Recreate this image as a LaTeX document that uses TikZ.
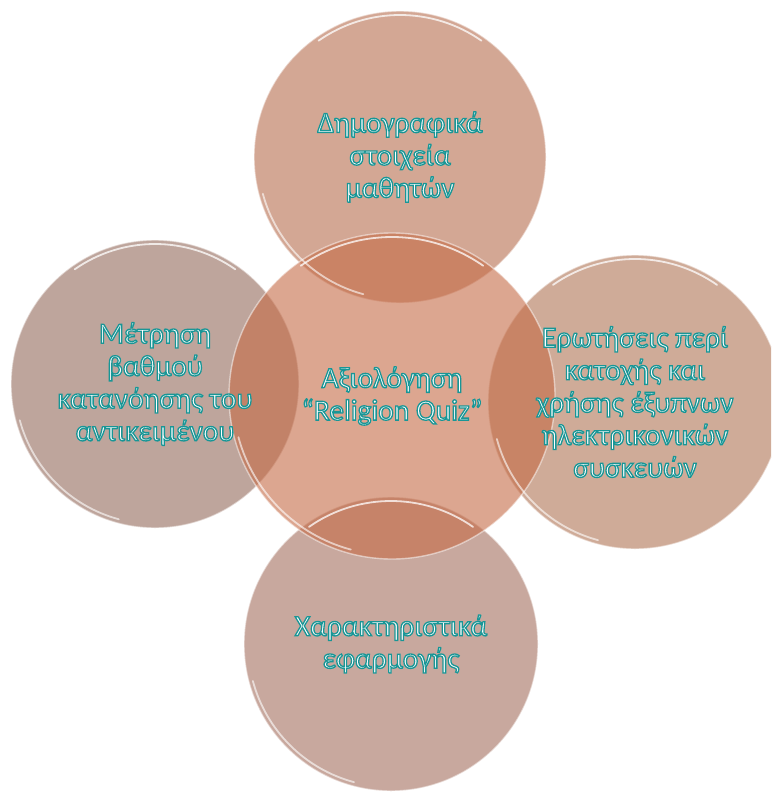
\documentclass[tikz,border=0pt]{standalone}
\usepackage{fontspec}
\setmainfont{Carlito}
\definecolor{cTop}{RGB}{182,108,77}
\definecolor{cMid}{RGB}{197,107,70}
\definecolor{cLft}{RGB}{147,105,90}
\definecolor{cRgt}{RGB}{175,115,83}
\definecolor{cBot}{RGB}{163,110,93}
% white letters with a teal rim (fill+stroke text mode)
\newcommand{\ol}[1]{\special{pdf:literal direct 2 Tr 1.3 w 0.094 0.588 0.588 RG}#1\special{pdf:literal direct 0 Tr}}
\tikzset{
  bubble/.style={circle, inner sep=0pt, fill=#1, fill opacity=.6,
    draw=white, draw opacity=.5, line width=1.4pt},
  gloss/.style={white, opacity=.75, line width=1.8pt, line cap=round},
  label text/.style={align=center, text=white, font=\fontsize{29.5}{32.5}\selectfont}
}

\begin{document}
\begin{tikzpicture}[x=1pt, y=-1pt]
  \useasboundingbox (0,0) rectangle (771,792);
  \clip (0,0) rectangle (771,792);
  % the five circles
  \node [bubble=cTop, minimum size=292pt] (top) at (400,157) {};
  \node [bubble=cLft, minimum size=288pt] (lft) at (155,384) {};
  \node [bubble=cRgt, minimum size=294pt] (rgt) at (635,402) {};
  \node [bubble=cBot, minimum size=294pt] (bot) at (391,644) {};
  \node [bubble=cMid, minimum size=326pt] (mid) at (392,396) {};
  % shine on the rims
  \foreach \n/\r in {top/146,lft/144,rgt/147,bot/147,mid/163} {
    \draw [gloss] ([shift={(235:\r-4)}]\n.center) arc [start angle=235, end angle=305, radius=\r-4];
    \draw [gloss, opacity=.6] ([shift={(105:\r-4)}]\n.center) arc [start angle=105, end angle=165, radius=\r-4];
  }
  % texts on top
  \node [label text] (ttop) at (top.center) {\ol{Δημογραφικά}\\\ol{στοιχεία}\\\ol{μαθητών}};
  \node [label text] (tmid) at (mid.center) {\ol{Αξιολόγηση}\\\ol{“Religion Quiz”}};
  \node [label text] (tlft) at (lft.center) {\ol{Μέτρηση}\\\ol{βαθμού}\\\ol{κατανόησης του}\\\ol{αντικειμένου}};
  \node [label text] (trgt) at (rgt.center) {\ol{Ερωτήσεις περί}\\\ol{κατοχής και}\\\ol{χρήσης έξυπνων}\\\ol{ηλεκτρικονικών}\\\ol{συσκευών}};
  \node [label text] (tbot) at (bot.center) {\ol{Χαρακτηριστικά}\\\ol{εφαρμογής}};
\end{tikzpicture}
\end{document}
